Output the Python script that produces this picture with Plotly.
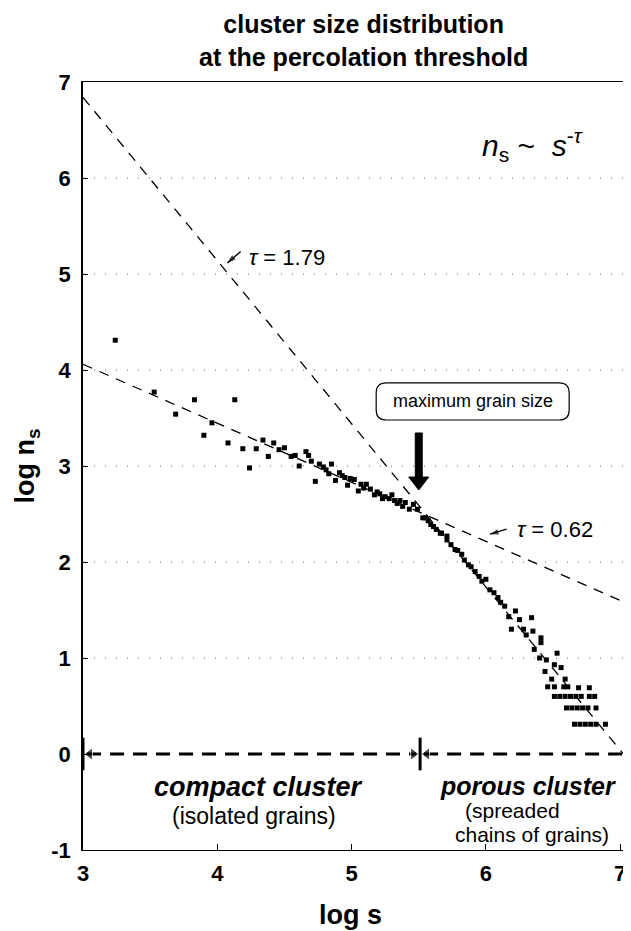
import plotly.graph_objects as go

# ---------------- data ----------------
log_s = [3.24, 3.53, 3.69, 3.83, 3.90, 3.96, 4.08, 4.13, 4.19, 4.24, 4.29, 4.34, 4.38, 4.42, 4.46, 4.50,
         4.55, 4.58, 4.61, 4.66, 4.68, 4.73, 4.76, 4.81, 4.85, 4.88, 4.91, 4.95, 4.99, 5.02, 5.05, 5.07,
         5.11, 5.14, 5.17, 5.21, 5.25, 5.28, 5.32, 5.36, 5.40, 5.43, 5.46, 5.49,
         4.70, 4.79, 4.83, 4.93, 4.97, 5.09, 5.19, 5.23, 5.30, 5.34, 5.38,
         5.53, 5.55, 5.57, 5.59, 5.61, 5.63, 5.66, 5.67, 5.71, 5.71, 5.74, 5.77, 5.79, 5.82, 5.84, 5.87,
         5.89, 5.92, 5.95, 5.97, 6.00, 6.03, 6.06, 6.09, 6.11, 6.14, 6.17, 6.19, 6.22, 6.25, 6.28, 6.30,
         6.34, 6.35, 6.36, 6.40, 6.41, 6.41, 6.44, 6.45, 6.49, 6.51, 6.53, 6.56, 6.59,
         6.46, 6.51, 6.58, 6.61, 6.69, 6.77,
         6.51, 6.55, 6.59, 6.63, 6.67, 6.71, 6.77, 6.81,
         6.60, 6.64, 6.68, 6.72, 6.76, 6.82, 7.08,
         6.66, 6.70, 6.74, 6.78, 6.82, 6.89]
log_ns = [4.31, 3.77, 3.54, 3.69, 3.32, 3.45, 3.24, 3.69, 3.18, 2.98, 3.18, 3.27, 3.10, 3.24, 3.17, 3.19,
          3.10, 3.11, 3.00, 3.15, 3.11, 2.84, 3.02, 2.96, 3.02, 2.85, 2.93, 2.88, 2.87, 2.86, 2.74, 2.81,
          2.81, 2.76, 2.70, 2.71, 2.68, 2.66, 2.64, 2.64, 2.62, 2.55, 2.60, 2.55,
          3.05, 2.99, 2.92, 2.90, 2.80, 2.77, 2.73, 2.66, 2.70, 2.61, 2.58,
          2.46, 2.46, 2.43, 2.39, 2.37, 2.34, 2.30, 2.30, 2.27, 2.23, 2.18, 2.13, 2.12, 2.08, 2.02, 1.97,
          1.95, 1.90, 1.85, 1.80, 1.82, 1.71, 1.68, 1.63, 1.58, 1.54, 1.43, 1.30, 1.49, 1.40, 1.30, 1.24,
          1.42, 1.28, 1.09, 1.00, 1.21, 1.16, 0.86, 0.98, 0.78, 0.93, 1.05, 0.90, 0.78,
          0.70, 0.70, 0.70, 0.70, 0.69, 0.69,
          0.60, 0.60, 0.60, 0.60, 0.60, 0.60, 0.60, 0.60,
          0.48, 0.48, 0.48, 0.48, 0.48, 0.48, 0.48,
          0.31, 0.31, 0.31, 0.31, 0.31, 0.31]

# fitted power-law lines: start x, start y, slope, end x
fit_tau179 = dict(x0=3.0, y0=6.84, slope=-1.70, x1=7.02)
fit_tau062 = dict(x0=3.0, y0=4.06, slope=-0.615, x1=7.14)

max_grain_log_s = 5.51
grid_levels = [1, 2, 3, 4, 5, 6]
x_ticks = [3, 4, 5, 6, 7]
y_ticks = [-1, 0, 1, 2, 3, 4, 5, 6, 7]
x_range = [3, 7.14]
y_range = [-1, 7]

FONT = "Liberation Sans, Arial, sans-serif"

def line_pts(f):
    return [f["x0"], f["x1"]], [f["y0"], f["y0"] + f["slope"] * (f["x1"] - f["x0"])]

fig = go.Figure()

# dashed fit lines
for f in (fit_tau179, fit_tau062):
    lx, ly = line_pts(f)
    fig.add_trace(go.Scatter(x=lx, y=ly, mode="lines",
                             line=dict(color="black", width=1.3, dash="10px,8px"),
                             hoverinfo="skip", showlegend=False))

# zero-level range arrows (dashed, thick)
fig.add_trace(go.Scatter(x=[x_range[0] + 0.03, max_grain_log_s - 0.03], y=[0, 0], mode="lines",
                         line=dict(color="black", width=2.8, dash="14px,9px"), showlegend=False))
fig.add_trace(go.Scatter(x=[max_grain_log_s + 0.03, 7.06], y=[0, 0], mode="lines",
                         line=dict(color="black", width=2.8, dash="14px,9px"), showlegend=False))
# arrowheads on the zero line
fig.add_trace(go.Scatter(x=[x_range[0] + 0.05, max_grain_log_s - 0.05, max_grain_log_s + 0.05, 7.08],
                         y=[0, 0, 0, 0], mode="markers",
                         marker=dict(symbol=["triangle-left", "triangle-right", "triangle-left",
                                             "triangle-right"],
                                     size=[11, 11, 11, 12], color="black"),
                         hoverinfo="skip", showlegend=False))

# small arrows pointing at the fitted lines
for (tx, ty), (hx, hy), ang in [((4.174, 5.235), (4.075, 5.115), 229),
                                ((6.154, 2.342), (6.03, 2.29), 254)]:
    fig.add_trace(go.Scatter(x=[tx, hx], y=[ty, hy], mode="lines+markers",
                             line=dict(color="black", width=1.4),
                             marker=dict(symbol=["circle", "arrow"], size=[0, 9], angle=ang,
                                         color="black", line=dict(width=0)),
                             hoverinfo="skip", showlegend=False))

# data points
fig.add_trace(go.Scatter(x=log_s, y=log_ns, mode="markers",
                         marker=dict(symbol="square", size=5, color="black"),
                         showlegend=False))

shapes = []
for g in grid_levels:
    shapes.append(dict(type="line", xref="paper", x0=0, x1=1, yref="y", y0=g, y1=g,
                       line=dict(color="#666", width=1, dash="1px,10px"), layer="below"))
# vertical bars on zero line
for xv in (x_range[0], max_grain_log_s):
    shapes.append(dict(type="line", xref="x", yref="y", x0=xv, x1=xv, y0=-0.17, y1=0.17,
                       line=dict(color="black", width=3)))

# rounded box for "maximum grain size"
bx0, bx1, by0, by1 = 5.183, 6.62, 3.479, 3.865
rx, ry = 0.0745, 0.104
path = (f"M {bx0+rx},{by1} L {bx1-rx},{by1} Q {bx1},{by1} {bx1},{by1-ry} "
        f"L {bx1},{by0+ry} Q {bx1},{by0} {bx1-rx},{by0} L {bx0+rx},{by0} "
        f"Q {bx0},{by0} {bx0},{by0+ry} L {bx0},{by1-ry} Q {bx0},{by1} {bx0+rx},{by1} Z")
shapes.append(dict(type="path", path=path, xref="x", yref="y",
                   line=dict(color="black", width=1.2), fillcolor="white"))
# thick arrow
ax_ = max_grain_log_s - 0.01
sw, hw = 0.026, 0.0745
arrow = (f"M {ax_-sw},3.344 L {ax_+sw},3.344 L {ax_+sw},2.885 L {ax_+hw},2.885 "
         f"L {ax_},2.75 L {ax_-hw},2.885 L {ax_-sw},2.885 Z")
shapes.append(dict(type="path", path=arrow, xref="x", yref="y",
                   line=dict(color="black", width=1), fillcolor="black"))

annotations = [
    dict(text="<b>cluster size distribution<br>at the percolation threshold</b>",
         xref="paper", yref="paper", x=0.504, y=1.054, xanchor="center", yanchor="middle",
         showarrow=False, font=dict(size=25, family=FONT, color="black")),
    dict(text="<b>log s</b>", xref="paper", yref="paper", x=0.482, y=-0.084,
         xanchor="center", yanchor="middle", showarrow=False,
         font=dict(size=27, family=FONT, color="black")),
    dict(text="<b>log n<sub>s</sub></b>", xref="paper", yref="paper", x=-0.1, y=0.5,
         xanchor="center", yanchor="middle", textangle=-90, showarrow=False,
         font=dict(size=27, family=FONT, color="black")),
    dict(text="<i>n</i><sub>s</sub> ~  <i>s</i><sup>-<i>τ</i></sup>", x=6.74, y=6.34,
         xanchor="right", yanchor="middle", showarrow=False,
         font=dict(size=30, family=FONT, color="black")),
    dict(text="maximum grain size", x=(bx0 + bx1) / 2, y=(by0 + by1) / 2,
         xanchor="center", yanchor="middle", showarrow=False,
         font=dict(size=18, family=FONT, color="black")),
    dict(text="<i>τ</i> = 1.79", x=4.22, y=5.17, xanchor="left", yanchor="middle",
         showarrow=False, font=dict(size=22, family=FONT, color="black")),
    dict(text="<i>τ</i> = 0.62", x=6.22, y=2.34, xanchor="left", yanchor="middle",
         showarrow=False, font=dict(size=22, family=FONT, color="black")),
    dict(text="<b><i>compact cluster</i></b>", x=4.31, y=-0.34, showarrow=False,
         xanchor="center", yanchor="middle", font=dict(size=27, family=FONT, color="black")),
    dict(text="(isolated grains)", x=4.27, y=-0.65, showarrow=False,
         xanchor="center", yanchor="middle", font=dict(size=23, family=FONT, color="black")),
    dict(text="<b><i>porous cluster</i></b>", x=6.31, y=-0.33, showarrow=False,
         xanchor="center", yanchor="middle", font=dict(size=25, family=FONT, color="black")),
    dict(text="(spreaded", x=6.2, y=-0.585, showarrow=False,
         xanchor="center", yanchor="middle", font=dict(size=21, family=FONT, color="black")),
    dict(text="chains of grains)", x=6.34, y=-0.84, showarrow=False,
         xanchor="center", yanchor="middle", font=dict(size=21, family=FONT, color="black")),
]

fig.update_layout(
    width=631, height=931,
    margin=dict(l=75, r=0, t=74, b=89),
    paper_bgcolor="white", plot_bgcolor="white",
    shapes=shapes, annotations=annotations,
    font=dict(family=FONT, color="black"),
    xaxis=dict(range=x_range, tickvals=x_ticks, ticktext=[f"<b>{t}</b>" for t in x_ticks],
               showgrid=False, zeroline=False, showline=True, linecolor="black", linewidth=1,
               mirror=True, ticks="inside", ticklen=6, tickcolor="black",
               tickfont=dict(size=22, family=FONT, color="black"), ticklabelstandoff=4),
    yaxis=dict(range=y_range, tickvals=y_ticks, ticktext=[f"<b>{t}</b>" for t in y_ticks],
               showgrid=False, zeroline=False, showline=True, linecolor="black", linewidth=1.5,
               ticks="inside", ticklen=5, tickcolor="black",
               tickfont=dict(size=22, family=FONT, color="black"), ticklabelstandoff=6),
)

fig.write_html("out.html")
